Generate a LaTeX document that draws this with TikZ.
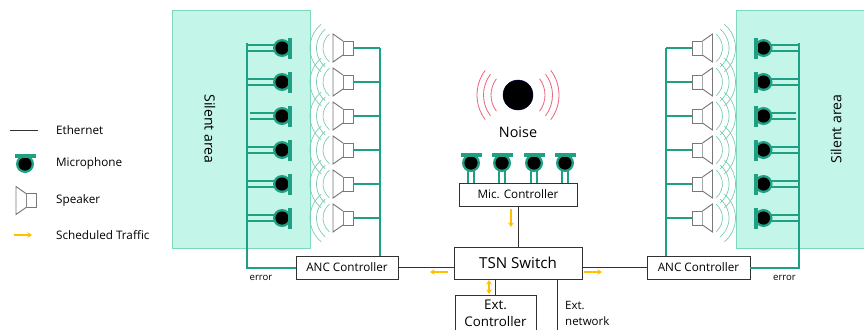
\documentclass[tikz,border=0pt]{standalone}
\usepackage{fontspec}
\setmainfont{Open Sans}
\usepackage{xcolor}
\usetikzlibrary{arrows.meta, positioning}
\definecolor{silentfill}{RGB}{195,245,232}
\definecolor{silentedge}{RGB}{125,216,190}
\definecolor{wiregreen}{RGB}{31,160,131}
\definecolor{wavegreen}{RGB}{120,205,180}
\definecolor{noisered}{RGB}{236,100,125}
\definecolor{trafficyellow}{RGB}{255,192,0}
\definecolor{speakergray}{RGB}{120,120,120}
\definecolor{linkgray}{RGB}{50,50,50}

\begin{document}
\begin{tikzpicture}[
    x=0.03cm, y=-0.03cm,
    font=\fontsize{10pt}{12pt}\selectfont,
    box/.style={draw=linkgray, fill=white, line width=0.8pt, inner sep=0pt, align=center},
    silent/.style={draw=silentedge, fill=silentfill, line width=0.7pt, inner sep=0pt},
    eth/.style={draw=linkgray, line width=0.8pt},
    buswire/.style={draw=wiregreen, line width=1.7pt},
    micwire/.style={draw=wiregreen, line width=1.3pt, double distance=4.2pt},
    traffic/.style={draw=trafficyellow, line width=1pt, -{Stealth[length=1.4mm,width=1.7mm]}},
    trafficboth/.style={draw=trafficyellow, line width=1pt, {Stealth[length=1.4mm,width=1.7mm]}-{Stealth[length=1.4mm,width=1.7mm]}},
    legendtext/.style={anchor=west, font=\fontsize{10pt}{12pt}\selectfont},
    micro/.pic={
        \fill[wiregreen] (0,0) circle[radius=9];
        \fill[black] (0,0) circle[radius=6.6];
        \fill[wiregreen] (6,-10.5) rectangle (10,10.5);
    },
    speaker/.pic={
        \draw[speakergray, fill=white, line width=0.8pt] (-10,-7) rectangle (0,7);
        \draw[speakergray, fill=white, line width=0.8pt] (-10,-7) -- (-20,-14) -- (-20,14) -- (-10,7);
    },
    speakerwaves/.pic={
        \foreach \r in {18,24.5,31}
            \draw[wavegreen, line width=0.6pt] (-12,0) ++(130:\r) arc[start angle=130, end angle=230, radius=\r];
    }
]
    \useasboundingbox (0,0) rectangle (864,329);

    % Silent areas
    \node[silent, minimum width=4.14cm, minimum height=7.14cm] (silentL) at (241,129) {};
    \node[silent, minimum width=4.8cm, minimum height=7.14cm] (silentR) at (816,129) {};
    \node[rotate=-90, font=\fontsize{12pt}{14pt}\selectfont] (silentlabelL) at (210,129) {Silent area};
    \node[rotate=90, font=\fontsize{12pt}{14pt}\selectfont] (silentlabelR) at (836,129) {Silent area};

    % Controllers
    \node[box, minimum width=3.06cm, minimum height=0.69cm] (ancL) at (347,267.5) {ANC Controller};
    \node[box, minimum width=3.09cm, minimum height=0.69cm] (ancR) at (698.5,267.5) {ANC Controller};
    \node[box, minimum width=3.54cm, minimum height=0.69cm] (micctl) at (518,194.5) {Mic. Controller};
    \node[box, minimum width=3.84cm, minimum height=0.96cm, font=\fontsize{12.9pt}{15pt}\selectfont] (tsn) at (518,263) {TSN Switch};
    \node[box, minimum width=2.43cm, minimum height=1.11cm, font=\fontsize{11.4pt}{14.5pt}\selectfont] (extctl) at (495.5,313.5) {Ext.\\Controller};

    % Mirrored sides
    \foreach \side/\sgn/\off/\port in {L/1/0/west, R/-1/1045.5/east} {
        \begin{scope}[shift={(\off,0)}, xscale=\sgn]
            \coordinate (busM\side) at (247,43);
            \coordinate (busS\side) at (380,48);
            \foreach \i/\ypos/\tapx in {1/48/247, 2/82/247, 3/116/250, 4/150/247, 5/184/247, 6/218/247} {
                \coordinate (mic\side\i) at (282,\ypos);
                \coordinate (tap\side\i) at (\tapx,\ypos);
                \coordinate (spk\side\i) at (353,\ypos);
                \draw[micwire, double=silentfill] (tap\side\i) -- (mic\side\i);
                \draw[buswire, line width=1.4pt] (spk\side\i) -- (spk\side\i -| busS\side);
                \pic[xscale=\sgn] at (spk\side\i) {speakerwaves};
                \pic[xscale=\sgn] at (spk\side\i) {speaker};
                \pic[xscale=\sgn] at (mic\side\i) {micro};
            }
            \draw[buswire] (busM\side) |- (anc\side.\port);
            \draw[buswire] (busS\side) -- (busS\side |- anc\side.north);
            \node[font=\fontsize{8.2pt}{10pt}\selectfont] (error\side) at (261,278) {error};
        \end{scope}
    }

    % Noise
    \node[circle, fill=black, draw=black!70!blue, minimum size=0.9cm, inner sep=0pt] (noise) at (518,95) {};
    \foreach \r in {27,34.5,41} {
        \draw[noisered, line width=0.7pt] (noise.center) ++(143:\r) arc[start angle=143, end angle=217, radius=\r];
        \draw[noisered, line width=0.7pt] (noise.center) ++(-37:\r) arc[start angle=-37, end angle=37, radius=\r];
    }
    \node[font=\fontsize{12.3pt}{14pt}\selectfont] (noiselabel) at (518,132) {Noise};

    % Top microphones
    \foreach \i/\xpos in {1/471, 2/502, 3/534, 4/565} {
        \coordinate (topmic\i) at (\xpos,163);
        \draw[micwire, double=white] (topmic\i) -- (topmic\i |- micctl.north);
        \pic[rotate=90] at (topmic\i) {micro};
    }

    % Ethernet links
    \draw[eth] (ancL.east) -- (ancL.east -| tsn.west);
    \draw[eth] (ancR.west) -- (ancR.west -| tsn.east);
    \draw[eth] (micctl.south) -- (tsn.north);
    \draw[eth] (extctl.north |- tsn.south) -- (extctl.north);
    \coordinate (extnet) at (557,335);
    \draw[eth] (extnet |- tsn.south) -- (extnet);
    \node[anchor=north west, align=left, inner sep=0pt, font=\fontsize{9.8pt}{13.6pt}\selectfont] (extnetlabel) at (565,301) {Ext.\\network};

    % Scheduled traffic
    \coordinate (trafAa) at (511,209);
    \coordinate (trafAb) at (511,227);
    \coordinate (trafBa) at (448,272);
    \coordinate (trafBb) at (430,272);
    \coordinate (trafCa) at (584,272);
    \coordinate (trafCb) at (602,272);
    \coordinate (trafDa) at (489,280);
    \coordinate (trafDb) at (489,294);
    \draw[traffic] (trafAa) -- (trafAb);
    \draw[traffic] (trafBa) -- (trafBb);
    \draw[traffic] (trafCa) -- (trafCb);
    \draw[trafficboth] (trafDa) -- (trafDb);

    % Legend
    \coordinate (legethA) at (10,130);
    \coordinate (legethB) at (38,130);
    \coordinate (legmic) at (25,164);
    \coordinate (legspk) at (36,200.5);
    \coordinate (legtrafA) at (14,235);
    \coordinate (legtrafB) at (32,235);
    \draw[eth] (legethA) -- (legethB);
    \pic[rotate=90] at (legmic) {micro};
    \pic at (legspk) {speaker};
    \draw[traffic] (legtrafA) -- (legtrafB);
    \node[legendtext] (legeth) at (52,130) {Ethernet};
    \node[legendtext] (legmicro) at (52,163) {Microphone};
    \node[legendtext] (legspeaker) at (52,200) {Speaker};
    \node[legendtext] (legtraffic) at (52,235) {Scheduled Traffic};
\end{tikzpicture}
\end{document}
